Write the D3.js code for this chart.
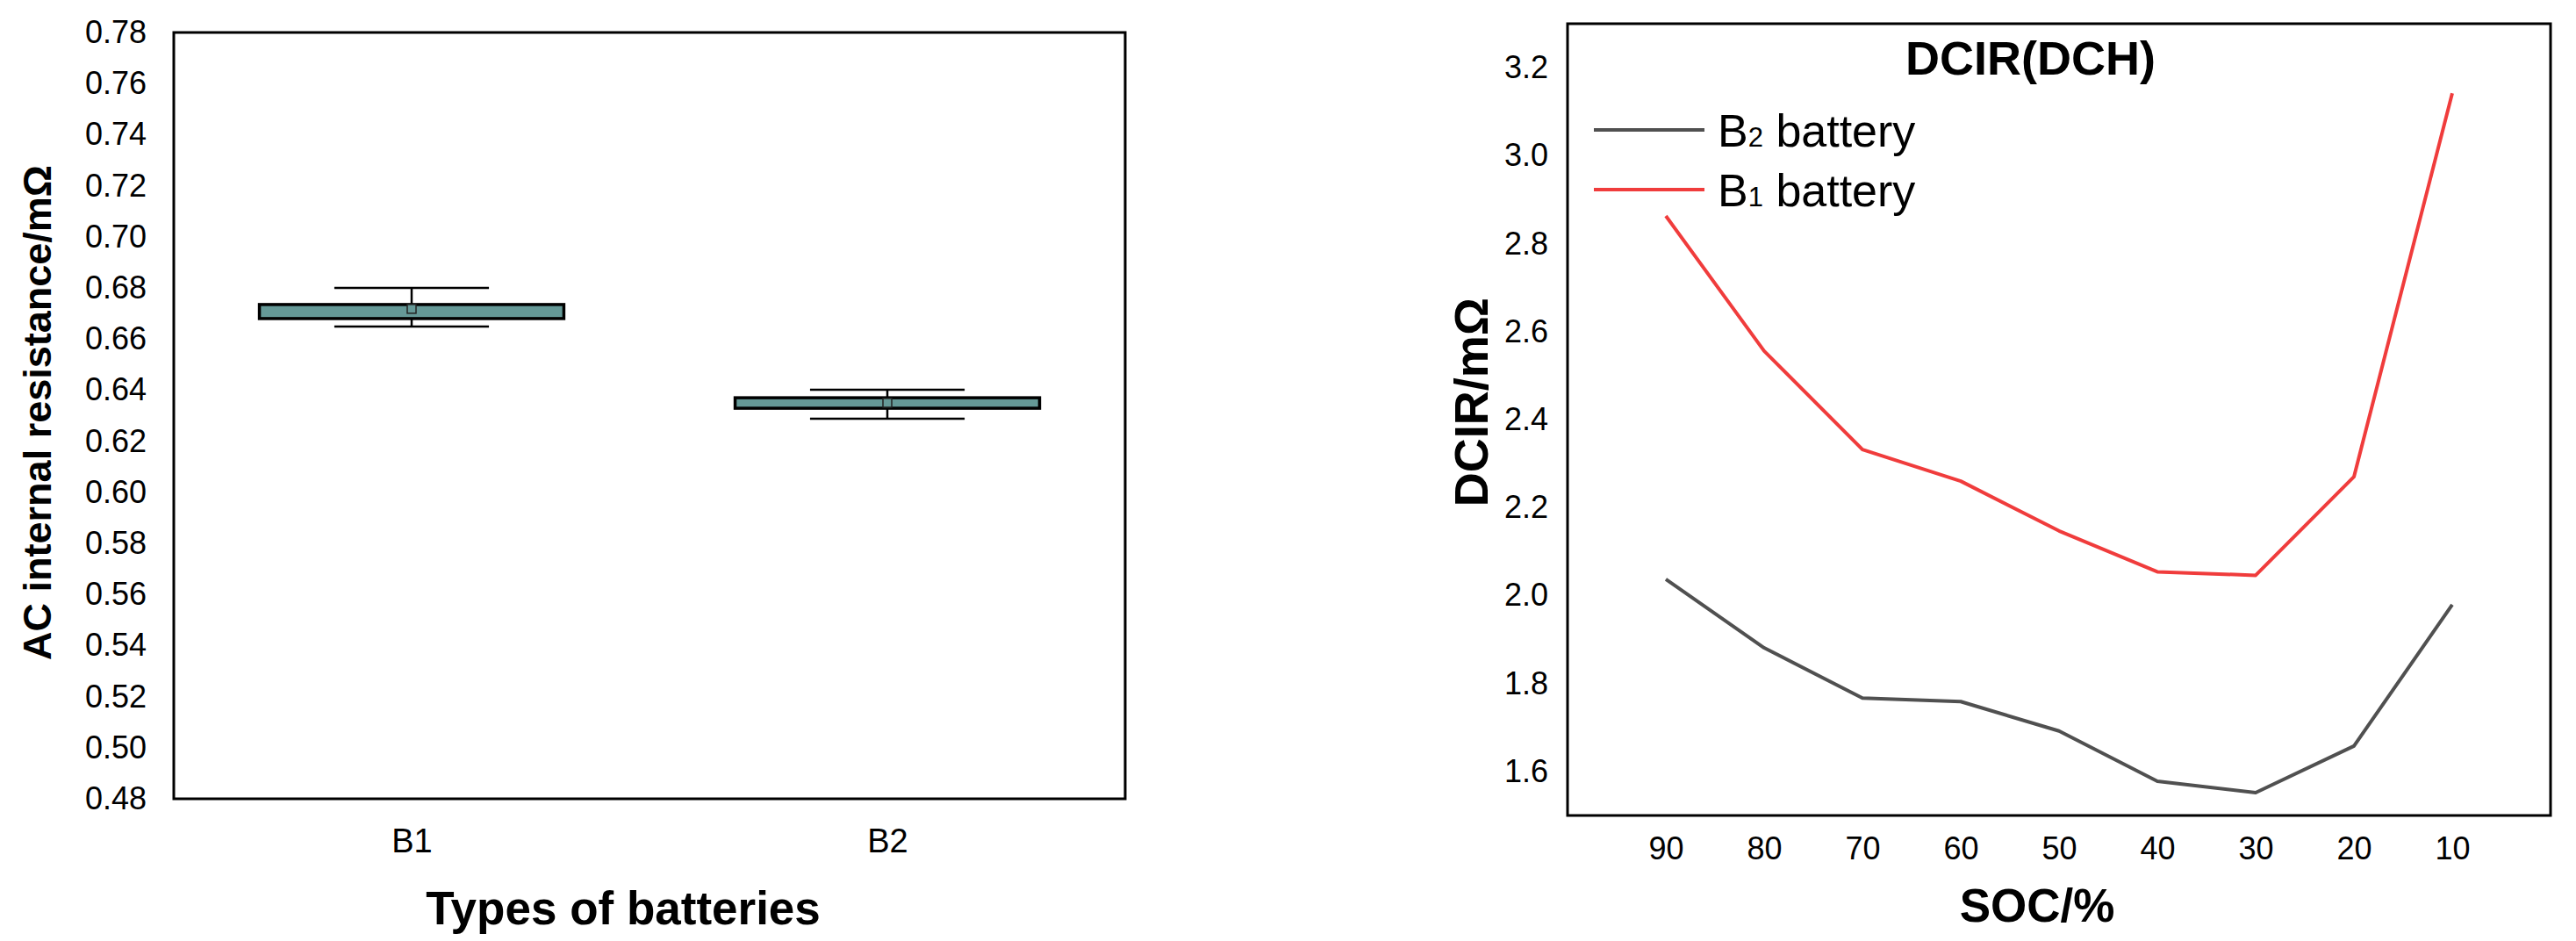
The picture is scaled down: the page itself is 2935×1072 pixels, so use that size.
<!DOCTYPE html>
<html>
<head>
<meta charset="utf-8">
<script src="https://cdn.jsdelivr.net/npm/d3@7"></script>
<style>
  html, body { margin: 0; padding: 0; background: #fff; }
  svg { display: block; font-family: "Liberation Sans", Arial, sans-serif; }
</style>
</head>
<body>
<svg id="chart" width="2935" height="1072"></svg>
<script>
// ---- Left panel data (AC internal resistance box chart)
const batteryTypes = ["B1", "B2"];
const boxLow = [0.668, 0.6329];
const boxHigh = [0.6735, 0.637];
const boxMean = [0.6718, 0.635];
const whiskerLow = [0.6649, 0.6288];
const whiskerHigh = [0.680, 0.6401];
const acTicks = [0.48, 0.50, 0.52, 0.54, 0.56, 0.58, 0.60, 0.62, 0.64, 0.66, 0.68, 0.70, 0.72, 0.74, 0.76, 0.78];

// ---- Right panel data (DCIR vs SOC)
const socLabels = ["90", "80", "70", "60", "50", "40", "30", "20", "10"];
const dcirB2 = [2.037, 1.881, 1.767, 1.759, 1.692, 1.578, 1.552, 1.658, 1.979];
const dcirB1 = [2.863, 2.556, 2.332, 2.260, 2.147, 2.054, 2.046, 2.270, 3.142];
const dcirTicks = [1.6, 1.8, 2.0, 2.2, 2.4, 2.6, 2.8, 3.0, 3.2];
const seriesNames = ["B2 battery", "B1 battery"];

const svg = d3.select("#chart");

// ================= LEFT PANEL =================
const L = { left: 198, right: 1282, top: 37, bottom: 910 };
const xL = d3.scalePoint().domain(batteryTypes).range([L.left, L.right]).padding(0.5);
const yL = d3.scaleLinear().domain([0.48, 0.78]).range([L.bottom, L.top]);
const stepL = xL.step();

const gLy = svg.append("g").attr("transform", `translate(${L.left},0)`)
  .call(d3.axisLeft(yL).tickValues(acTicks).tickFormat(d3.format(".2f")).tickSize(0).tickPadding(31));
gLy.select(".domain").remove();
gLy.selectAll("text").attr("font-size", 36).attr("font-family", "Liberation Sans, Arial, sans-serif").attr("fill", "#000");

const gLx = svg.append("g").attr("transform", `translate(0,${L.bottom})`)
  .call(d3.axisBottom(xL).tickSize(0).tickPadding(34));
gLx.select(".domain").remove();
gLx.selectAll("text").attr("font-size", 38).attr("font-family", "Liberation Sans, Arial, sans-serif").attr("fill", "#000");

const boxes = batteryTypes.map((c, i) => ({ c, lo: boxLow[i], hi: boxHigh[i], mean: boxMean[i], wl: whiskerLow[i], wh: whiskerHigh[i] }));
const bw = stepL * 0.64, cw = stepL * 0.325;
const gb = svg.append("g");
boxes.forEach(b => {
  const cx = xL(b.c);
  // whisker stems
  gb.append("line").attr("x1", cx).attr("x2", cx).attr("y1", yL(b.wh)).attr("y2", yL(b.wl))
    .attr("stroke", "#000").attr("stroke-width", 2.5);
  // caps
  [b.wh, b.wl].forEach(v => gb.append("line").attr("x1", cx - cw / 2).attr("x2", cx + cw / 2)
    .attr("y1", yL(v)).attr("y2", yL(v)).attr("stroke", "#000").attr("stroke-width", 2.5));
  // box
  gb.append("rect").attr("x", cx - bw / 2).attr("width", bw)
    .attr("y", yL(b.hi)).attr("height", yL(b.lo) - yL(b.hi))
    .attr("fill", "#659997").attr("stroke", "#000").attr("stroke-width", 3.5);
  // mean marker
  gb.append("rect").attr("x", cx - 5).attr("y", yL(b.mean) - 5).attr("width", 10).attr("height", 10)
    .attr("fill", "#659997").attr("stroke", "#222").attr("stroke-width", 1.5);
});

svg.append("rect").attr("x", L.left).attr("y", L.top).attr("width", L.right - L.left).attr("height", L.bottom - L.top)
  .attr("fill", "none").attr("stroke", "#000").attr("stroke-width", 3);

svg.append("text").attr("transform", `translate(58,470) rotate(-90)`).attr("text-anchor", "middle")
  .attr("font-size", 45).attr("font-weight", "bold").text("AC internal resistance/mΩ");
svg.append("text").attr("x", 710).attr("y", 1053).attr("text-anchor", "middle")
  .attr("font-size", 53).attr("font-weight", "bold").text("Types of batteries");

// ================= RIGHT PANEL =================
const R = { left: 1786, right: 2906, top: 27, bottom: 929 };
const xR = d3.scalePoint().domain(socLabels).range([R.left, R.right]).padding(1);
const yR = d3.scaleLinear().domain([1.5, 3.3]).range([R.bottom, R.top]);

const gRy = svg.append("g").attr("transform", `translate(${R.left},0)`)
  .call(d3.axisLeft(yR).tickValues(dcirTicks).tickFormat(d3.format(".1f")).tickSize(0).tickPadding(22));
gRy.select(".domain").remove();
gRy.selectAll("text").attr("font-size", 36).attr("font-family", "Liberation Sans, Arial, sans-serif").attr("fill", "#000");

const gRx = svg.append("g").attr("transform", `translate(0,${R.bottom})`)
  .call(d3.axisBottom(xR).tickSize(0).tickPadding(24));
gRx.select(".domain").remove();
gRx.selectAll("text").attr("font-size", 36).attr("font-family", "Liberation Sans, Arial, sans-serif").attr("fill", "#000");

const line = d3.line().x((d, i) => xR(socLabels[i])).y(d => yR(d));
const seriesColors = ["#505050", "#f03c3c"];
[dcirB2, dcirB1].forEach((s, k) => {
  svg.append("path").datum(s).attr("d", line).attr("fill", "none")
    .attr("stroke", seriesColors[k]).attr("stroke-width", 4).attr("stroke-linejoin", "round");
});

svg.append("rect").attr("x", R.left).attr("y", R.top).attr("width", R.right - R.left).attr("height", R.bottom - R.top)
  .attr("fill", "none").attr("stroke", "#000").attr("stroke-width", 3);

svg.append("text").attr("x", 2171).attr("y", 85).attr("font-size", 54).attr("font-weight", "bold").text("DCIR(DCH)");

// legend
const legY = [148, 216];
seriesNames.forEach((name, k) => {
  svg.append("line").attr("x1", 1816).attr("x2", 1942).attr("y1", legY[k]).attr("y2", legY[k])
    .attr("stroke", seriesColors[k]).attr("stroke-width", 4);
  const parts = name.split(" ");
  const t = svg.append("text").attr("x", 1957).attr("y", legY[k] + 19).attr("font-size", 52);
  t.append("tspan").text(parts[0].charAt(0));
  t.append("tspan").attr("font-size", 31).text(parts[0].slice(1));
  t.append("tspan").text(" " + parts.slice(1).join(" "));
});

svg.append("text").attr("transform", `translate(1695,458) rotate(-90)`).attr("text-anchor", "middle")
  .attr("font-size", 54).attr("font-weight", "bold").text("DCIR/mΩ");
svg.append("text").attr("x", 2321).attr("y", 1050).attr("text-anchor", "middle")
  .attr("font-size", 53).attr("font-weight", "bold").text("SOC/%");
</script>
</body>
</html>
